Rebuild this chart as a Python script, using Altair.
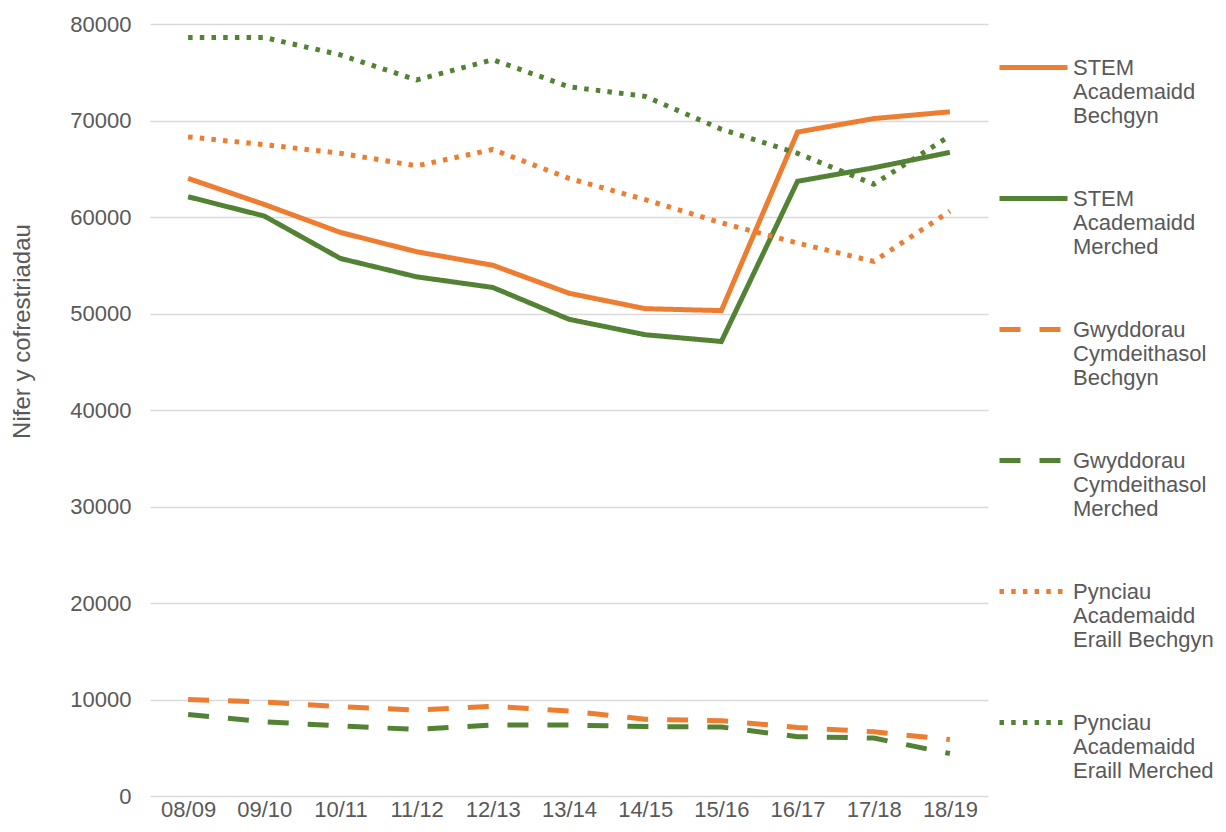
import altair as alt
import pandas as pd

years = ["08/09", "09/10", "10/11", "11/12", "12/13", "13/14", "14/15", "15/16", "16/17", "17/18", "18/19"]

series_names = [
    "STEM|Academaidd|Bechgyn",
    "STEM|Academaidd|Merched",
    "Gwyddorau|Cymdeithasol|Bechgyn",
    "Gwyddorau|Cymdeithasol|Merched",
    "Pynciau|Academaidd|Eraill Bechgyn",
    "Pynciau|Academaidd|Eraill Merched",
]

stem_bechgyn = [64000, 61300, 58400, 56400, 55000, 52100, 50500, 50300, 68800, 70200, 70900]
stem_merched = [62100, 60100, 55700, 53800, 52700, 49400, 47800, 47100, 63700, 65100, 66700]
gwydd_bechgyn = [10000, 9750, 9250, 8900, 9300, 8800, 7950, 7800, 7100, 6650, 5850]
gwydd_merched = [8450, 7700, 7250, 6900, 7350, 7350, 7200, 7150, 6150, 6000, 4400]
pync_bechgyn = [68300, 67500, 66600, 65300, 67000, 64000, 61800, 59400, 57300, 55400, 60600]
pync_merched = [78600, 78600, 76800, 74200, 76300, 73500, 72500, 69100, 66600, 63400, 68400]

all_values = [stem_bechgyn, stem_merched, gwydd_bechgyn, gwydd_merched, pync_bechgyn, pync_merched]

colors = ["#ED7D31", "#548235", "#ED7D31", "#548235", "#ED7D31", "#548235"]
dashes = [[1, 0], [1, 0], [21, 19], [21, 19], [4.5, 7.2], [4.5, 7.2]]

rows = []
for name, vals in zip(series_names, all_values):
    for yr, v in zip(years, vals):
        rows.append({"year": yr, "value": v, "series": name})
df = pd.DataFrame(rows)

legend = alt.Legend(
    title=None,
    orient="none",
    legendX=847,
    legendY=7,
    symbolType="stroke",
    symbolSize=4624,
    symbolStrokeWidth=5,
    labelExpr="split(datum.label, '|')",
    labelBaseline="middle",
    labelFont="Liberation Sans",
    labelFontSize=22,
    labelColor="#595959",
    labelLimit=400,
    labelOffset=3,
    rowPadding=35,
    padding=0,
)

chart = (
    alt.Chart(df)
    .mark_line(strokeWidth=5)
    .encode(
        x=alt.X(
            "year:N",
            sort=years,
            scale=alt.Scale(type="point", padding=0.5),
            axis=alt.Axis(
                title=None,
                ticks=False,
                domain=False,
                labelAngle=0,
                labelPadding=3,
                labelFont="Liberation Sans",
                labelFontSize=22,
                labelColor="#595959",
            ),
        ),
        y=alt.Y(
            "value:Q",
            scale=alt.Scale(domain=[0, 80000], nice=False),
            axis=alt.Axis(
                title="Nifer y cofrestriadau",
                values=[0, 10000, 20000, 30000, 40000, 50000, 60000, 70000, 80000],
                format="d",
                ticks=False,
                domain=False,
                labelPadding=19,
                labelFont="Liberation Sans",
                labelFontSize=22,
                labelColor="#595959",
                titleFont="Liberation Sans",
                titleFontSize=24,
                titleFontWeight="normal",
                titleColor="#595959",
                titlePadding=35,
                titleY=307,
                gridColor="#D9D9D9",
                gridWidth=1.5,
            ),
        ),
        color=alt.Color("series:N", sort=series_names,
                        scale=alt.Scale(domain=series_names, range=colors), legend=legend),
        strokeDash=alt.StrokeDash("series:N", sort=series_names,
                                  scale=alt.Scale(domain=series_names, range=dashes), legend=legend),
    )
    .properties(
        width=838,
        height=772,
        autosize=alt.AutoSizeParams(type="none"),
        padding={"left": 142, "top": 16, "right": 230, "bottom": 28},
    )
    .configure_view(stroke=None)
)

chart.save("out.html", embed_options={"renderer": "svg", "actions": False})
